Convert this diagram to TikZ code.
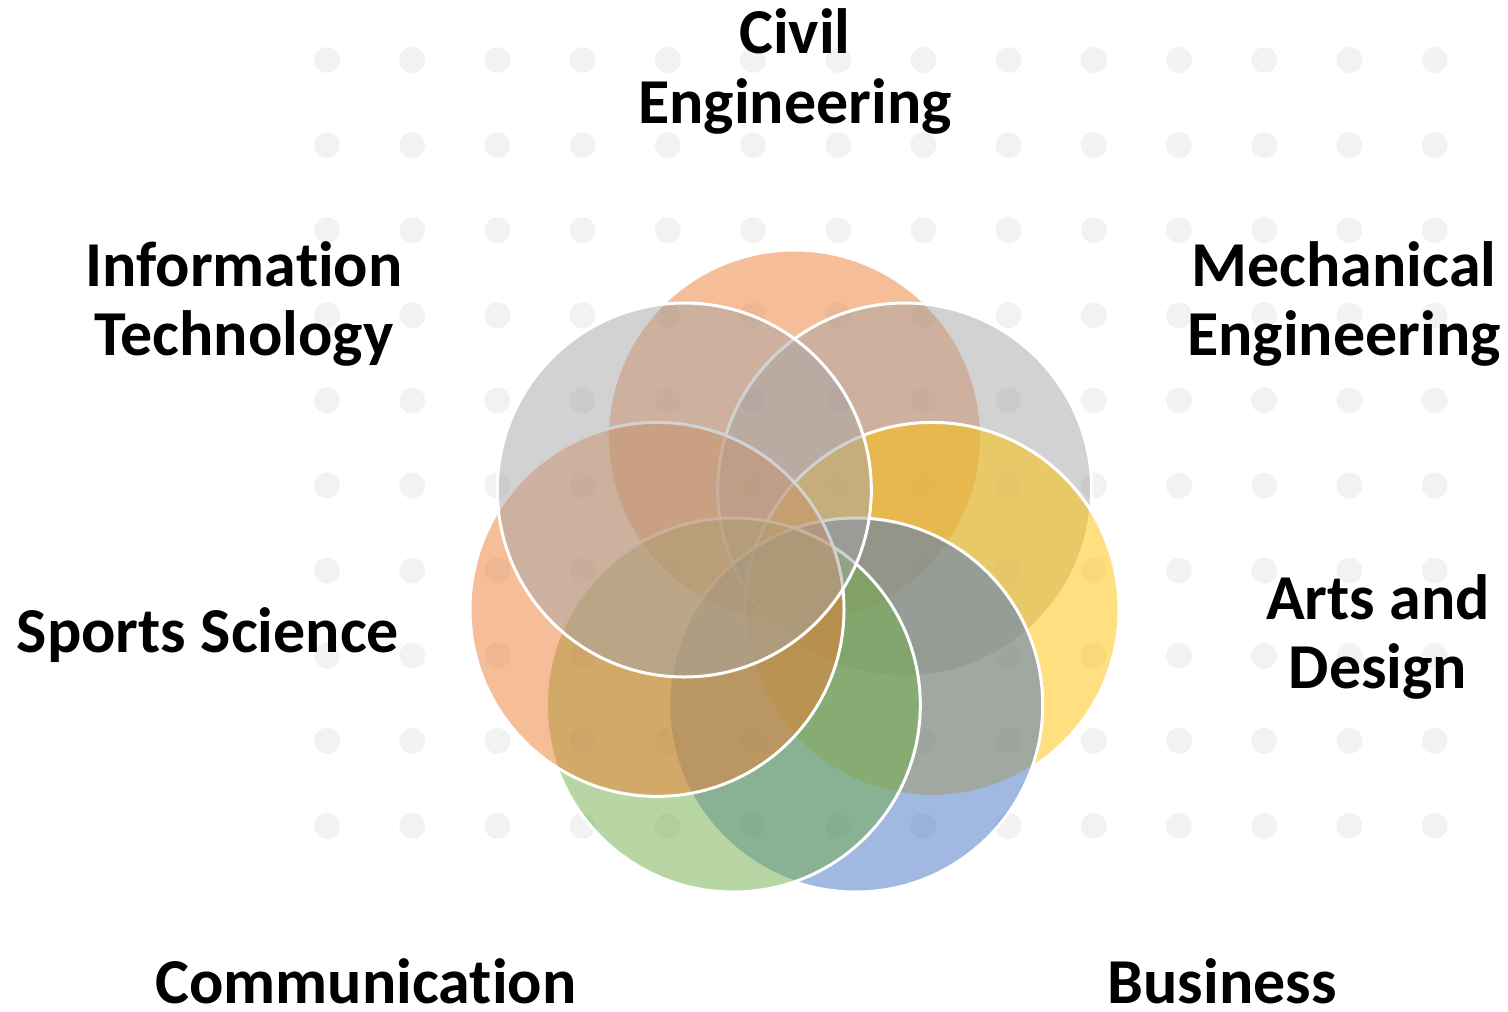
\documentclass[tikz,border=0pt]{standalone}
\usepackage{fontspec}
\setmainfont{Carlito}[Ligatures=NoCommon]
\definecolor{cOrange}{HTML}{ED7D31}
\definecolor{cGray}{HTML}{A5A5A5}
\definecolor{cYellow}{HTML}{FFC000}
\definecolor{cBlue}{HTML}{4472C4}
\definecolor{cGreen}{HTML}{70AD47}
\definecolor{cDot}{HTML}{F2F2F2}
\begin{document}
\begin{tikzpicture}[x=0.5pt,y=-0.5pt,
  venn/.style={circle, minimum size=187pt, inner sep=0pt, draw=white,
    line width=1.5pt, fill opacity=0.5, draw opacity=1},
  lbl/.style={font=\fontsize{32}{34.5}\selectfont\bfseries, align=center,
    inner sep=0pt, anchor=base}]
\useasboundingbox (0,0) rectangle (1508,1011);
% background dot grid
\foreach \i in {0,...,13}
  \foreach \j in {0,...,9}
    \fill[cDot] (327+85.2*\i, 60+85.1*\j) circle[radius=6.5pt];
% seven overlapping circles on a ring, clockwise from the top
\node[venn, fill=cOrange] (civil) at (794.5,437) {};
\node[venn, fill=cGray]   (mech)  at (904.7,490) {};
\node[venn, fill=cYellow] (arts)  at (932,609.4) {};
\node[venn, fill=cBlue]   (bus)   at (855.7,705) {};
\node[venn, fill=cGreen]  (comm)  at (733.3,705) {};
\node[venn, fill=cOrange] (sport) at (657,609.4) {};
\node[venn, fill=cGray]   (info)  at (684.3,490) {};
% labels (base anchor sits on the last line)
\node[lbl] (tCivil) at (795,123)  {Civil\\Engineering};
\node[lbl] (tMech)  at (1344,355) {Mechanical\\Engineering};
\node[lbl] (tArts)  at (1378,688) {Arts and\\Design};
\node[lbl] (tBus)   at (1222,1003){Business};
\node[lbl] (tComm)  at (366,1003) {Communication};
\node[lbl] (tSport) at (208,652)  {Sports Science};
\node[lbl] (tInfo)  at (244,355)  {Information\\Technology};
\end{tikzpicture}
\end{document}
